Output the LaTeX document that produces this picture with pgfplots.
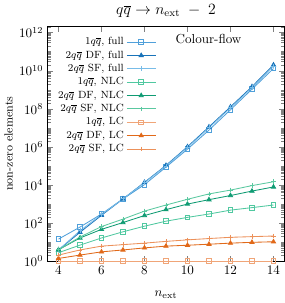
\documentclass[border=0pt]{standalone}
\usepackage{pgfplots}
\pgfplotsset{compat=1.18}
\definecolor{fullA}{RGB}{80,160,218}
\definecolor{fullB}{RGB}{25,115,185}
\definecolor{fullC}{RGB}{120,188,232}
\definecolor{nlcA}{RGB}{80,200,160}
\definecolor{nlcB}{RGB}{15,155,115}
\definecolor{nlcC}{RGB}{90,200,160}
\definecolor{lcA}{RGB}{240,165,120}
\definecolor{lcB}{RGB}{225,105,25}
\definecolor{lcC}{RGB}{236,145,90}
\begin{document}
\begin{tikzpicture}
\begin{axis}[
  scale only axis,
  width=181pt, height=180pt,
  ymode=log,
  xmin=3.5, xmax=14.5,
  ymin=1, ymax=2.2e12,
  xtick={4,6,8,10,12,14},
  ytick={1,1e2,1e4,1e6,1e8,1e10,1e12},
  minor ytick={2,3,4,5,6,7,8,9,10,20,30,40,50,60,70,80,90,200,300,400,500,600,700,800,900,1e3,2e3,3e3,4e3,5e3,6e3,7e3,8e3,9e3,2e4,3e4,4e4,5e4,6e4,7e4,8e4,9e4,2e5,3e5,4e5,5e5,6e5,7e5,8e5,9e5,1e5,2e6,3e6,4e6,5e6,6e6,7e6,8e6,9e6,1e7,2e7,3e7,4e7,5e7,6e7,7e7,8e7,9e7,2e8,3e8,4e8,5e8,6e8,7e8,8e8,9e8,1e9,2e9,3e9,4e9,5e9,6e9,7e9,8e9,9e9,2e10,3e10,4e10,5e10,6e10,7e10,8e10,9e10,1e11,2e11,3e11,4e11,5e11,6e11,7e11,8e11,9e11,2e12},
  tick align=inside,
  tick pos=both,
  xlabel={$n_\mathrm{ext}$},
  ylabel={non-zero elements},
  ylabel style={font=\small, yshift=-2pt},
  xlabel style={yshift=-6pt},
  title={$q\overline{q}\to n_\mathrm{ext}\;-\;2$},
  title style={font=\large, yshift=-3pt},
  legend style={draw=none, fill=none, font=\footnotesize, at={(0.015,0.975)}, anchor=north west, row sep=-0.9pt},
  legend cell align=right,
  legend plot pos=right,
  legend image code/.code={\draw[#1] (0pt,0pt) -- (11pt,0pt) plot coordinates {(11pt,0pt)} -- (22pt,0pt);},
  every axis plot/.append style={line width=0.65pt, mark size=1.8pt},
]
\addplot[fullA, mark=square] coordinates {(4,14.5)(5,62)(6,300)(7,1860)(8,1.05e4)(9,8.7e4)(10,7.6e5)(11,7.6e6)(12,8.9e7)(13,1.07e9)(14,1.3e10)};
\addlegendentry{$1q\overline{q}$, full}
\addplot[fullB, mark=triangle*] coordinates {(4,3.9)(5,33)(6,257)(7,1860)(8,1.38e4)(9,1.07e5)(10,1.02e6)(11,1.12e7)(12,1.26e8)(13,1.45e9)(14,2.0e10)};
\addlegendentry{$2q\overline{q}$ DF, full}
\addplot[fullC, mark=+] coordinates {(4,3.9)(5,40)(6,282)(7,1860)(8,1.32e4)(9,1.0e5)(10,9.3e5)(11,1.0e7)(12,1.12e8)(13,1.26e9)(14,1.74e10)};
\addlegendentry{$2q\overline{q}$ SF, full}
\addplot[nlcA, mark=square] coordinates {(4,2.8)(5,7)(6,16.6)(7,35)(8,69)(9,126)(10,200)(11,300)(12,480)(13,650)(14,890)};
\addlegendentry{$1q\overline{q}$, NLC}
\addplot[nlcB, mark=triangle*] coordinates {(4,4)(5,16.6)(6,47)(7,107)(8,250)(9,510)(10,1000)(11,1700)(12,2800)(13,4800)(14,7900)};
\addlegendentry{$2q\overline{q}$ DF, NLC}
\addplot[nlcC, mark=+] coordinates {(4,4)(5,18.6)(6,66)(7,162)(8,427)(9,890)(10,1780)(11,3400)(12,5400)(13,9300)(14,14800)};
\addlegendentry{$2q\overline{q}$ SF, NLC}
\addplot[lcA, mark=square] coordinates {(4,1)(5,1)(6,1)(7,1)(8,1)(9,1)(10,1)(11,1)(12,1)(13,1)(14,1)};
\addlegendentry{$1q\overline{q}$, LC}
\addplot[lcB, mark=triangle*] coordinates {(4,1.4)(5,2.1)(6,3.1)(7,3.9)(8,5)(9,6.2)(10,6.9)(11,7.8)(12,8.9)(13,9.8)(14,10.5)};
\addlegendentry{$2q\overline{q}$ DF, LC}
\addplot[lcC, mark=+] coordinates {(4,2.1)(5,3.9)(6,6.2)(7,7.4)(8,8.9)(9,11)(10,13.2)(11,15.5)(12,18)(13,19.5)(14,21)};
\addlegendentry{$2q\overline{q}$ SF, LC}
\node[anchor=center] at (rel axis cs:0.68,0.945) {Colour-flow};
\end{axis}
\end{tikzpicture}
\end{document}
